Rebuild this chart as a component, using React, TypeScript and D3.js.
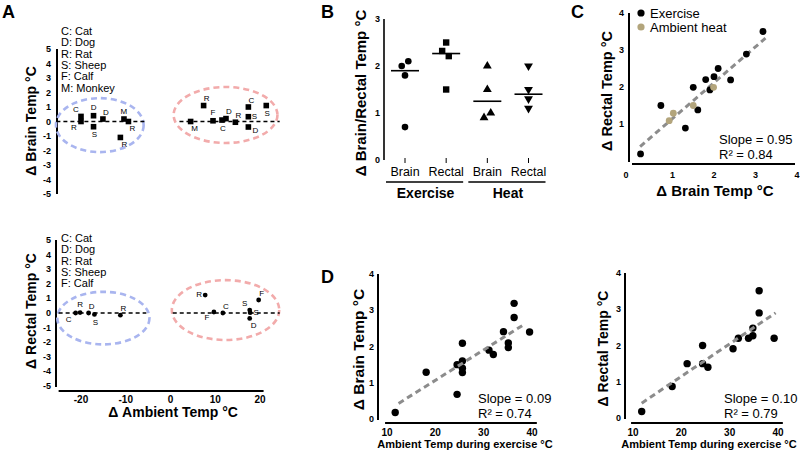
import React from "react";
import * as d3 from "d3";

const FONT = "'Liberation Sans', Arial, Helvetica, sans-serif";

// ---------- Panel A data ----------
const aTicksY = [5, 4, 3, 2, 1, 0, -1, -2, -3, -4, -5];
const aTicksX = [-20, -10, 0, 10, 20];
const legendBrain = ["C: Cat", "D: Dog", "R: Rat", "S: Sheep", "F: Calf", "M: Monkey"];
const legendRectal = ["C: Cat", "D: Dog", "R: Rat", "S: Sheep", "F: Calf"];

const brainSpecies = ["C", "R", "D", "S", "D", "M", "R", "R", "M", "R", "F", "C", "D", "R", "C", "S", "D", "S"];
const brainAmbient = [-20, -20, -17.2, -17.2, -15.1, -10.4, -9.4, -11.2, 4.5, 7.4, 9.5, 11.5, 12.4, 14.5, 17.4, 17.4, 17.4, 21.4];
const brainDelta = [0.35, 0.0, 0.4, -0.36, 0.17, 0.17, 0.0, -1.1, 0, 1.1, 0.05, 0.1, 0.2, -0.05, 1.0, 0.33, -0.38, 1.1];
const brainLabelPos = ["tl", "bl", "t", "b", "tr", "t", "br", "br", "br", "tr", "t", "b", "tr", "tr", "tr", "r", "rb", "b"];

const rectalSpecies = ["C", "R", "D", "S", "R", "R", "F", "C", "S", "S", "D", "F"];
const rectalAmbient = [-21.2, -20.2, -18.3, -17, -11.2, 7.75, 9.7, 11.7, 17.7, 17.8, 17.7, 19.7];
const rectalDelta = [0, 0.03, 0, -0.1, -0.15, 1.23, 0.07, 0, 0.2, 0.02, -0.37, 0.89];
const rectalLabelPos = ["bl", "t", "tr", "b", "tr", "l", "bl", "tr", "tl", "r", "br", "tr"];

// ---------- Panel B data ----------
const bCategories = ["Brain", "Rectal", "Brain", "Rectal"];
const bKeys = ["EB", "ER", "HB", "HR"];
const bGroups = ["Exercise", "Heat"];
const bTicks = [0, 1, 2, 3];
const exerciseBrain = [2.0, 2.1, 1.8, 0.7];
const exerciseRectal = [2.5, 2.32, 2.21, 1.5];
const heatBrain = [2.0, 1.5, 1.0, 0.9];
const heatRectal = [2.0, 1.5, 1.3, 1.1];
const bJitter = [[-3.3, 3.3, 0, 0], [0, -4, 2.6, 0], [0, 0, 3.4, -3.3], [0, 0, 0, 0]];

// ---------- Panel C data ----------
const cTicks = [0, 1, 2, 3, 4];
const cExBrain = [0.23, 0.72, 1.31, 1.5, 1.61, 1.8, 1.9, 2.0, 2.1, 2.4, 2.78, 3.18];
const cExRectal = [0.19, 1.5, 0.89, 1.99, 1.38, 2.2, 1.92, 2.28, 2.5, 2.19, 2.89, 3.5];
const cHeatBrain = [0.92, 1.02, 1.5, 1.99];
const cHeatRectal = [1.09, 1.29, 1.5, 1.99];
const cFitX = [0.22, 3.24];
const cFitY = [0.39, 3.32];

// ---------- Panel D data ----------
const dTicksX = [10, 20, 30, 40];
const dTicksY = [0, 1, 2, 3, 4];
const dBrainAmbient = [11.7, 18.1, 24.5, 24.5, 25.6, 25.6, 25.6, 25.6, 31.1, 32.0, 34.1, 35.1, 35.1, 36.3, 36.3, 39.5];
const dBrainDelta = [0.18, 1.29, 0.68, 1.5, 2.09, 1.6, 1.4, 1.28, 1.9, 1.78, 2.41, 2.1, 1.97, 3.19, 2.8, 2.4];
const dBrainFitX = [12.4, 38.5];
const dBrainFitY = [0.43, 2.62];
const dRectalAmbient = [11.8, 18.1, 21.2, 24.4, 24.4, 25.5, 30.7, 31.8, 33.9, 34.8, 34.8, 36.1, 36.1, 39.2];
const dRectalDelta = [0.18, 0.87, 1.5, 2.0, 1.5, 1.4, 1.91, 2.2, 2.2, 2.27, 2.48, 2.9, 3.51, 2.2];
const dRectalFitX = [11.8, 39.5];
const dRectalFitY = [0.41, 2.9];

const LABEL_OFF: Record<string, [number, number]> = {
  t: [0, -8], b: [1, 8], tl: [-5, -7], bl: [-7, 6], tr: [3, -7], br: [4, 7], r: [6, 0], rb: [7, 3], l: [-6, -1],
};

const BLUE = "#a9b5ef";
const PINK = "#f2abab";
const TAN = "#b3a57c";
const FITGRAY = "#8c8c8c";

function PanelA() {
  const x = d3.scaleLinear().domain([-20, 20]).range([81, 260]);
  const yT = d3.scaleLinear().domain([-5, 5]).range([194, 49]);
  const yB = d3.scaleLinear().domain([-5, 5]).range([386, 240]);
  const ell = (y: any, cx: number, cy: number, rx: number, ry: number, color: string) => (
    <ellipse cx={x(cx)} cy={y(cy)} rx={x(cx + rx) - x(cx)} ry={y(cy - ry) - y(cy)}
      fill="none" stroke={color} strokeWidth={2.6} strokeDasharray="6 4" />
  );
  const zero = (y: any, a: number, b: number) => (
    <line x1={x(a)} x2={x(b)} y1={y(0)} y2={y(0)} stroke="#000" strokeWidth={1.6} strokeDasharray="4 3" />
  );
  return (
    <g>
      <text x={2} y={18} fontSize={18} fontWeight="bold">A</text>
      {/* top */}
      {legendBrain.map((t, i) => (
        <text key={t} x={61} y={31 + i * 11.3} fontSize={11} dominantBaseline="central">{t}</text>
      ))}
      <line x1={57} x2={57} y1={yT(5)} y2={yT(-5)} stroke="#000" strokeWidth={2} />
      {aTicksY.map((t) => (
        <text key={"yt" + t} x={51} y={yT(t)} fontSize={9} fontWeight="bold" textAnchor="end" dominantBaseline="central">{t}</text>
      ))}
      <text transform={`translate(31,121) rotate(-90)`} fontSize={14} fontWeight="bold" textAnchor="middle" dominantBaseline="central">Δ Brain Temp °C</text>
      {ell(yT, -15.8, -0.25, 9.8, 1.86, BLUE)}
      {ell(yT, 12.3, 0.45, 11.6, 1.93, PINK)}
      {zero(yT, -25.5, -5.4)}
      {zero(yT, 2, 24.4)}
      {brainAmbient.map((a, i) => {
        const px = x(a), py = yT(brainDelta[i]);
        const [dx, dy] = LABEL_OFF[brainLabelPos[i]];
        return (
          <g key={"bp" + i}>
            <rect x={px - 2.8} y={py - 2.8} width={5.6} height={5.6} fill="#000" />
            <text x={px + dx} y={py + dy} fontSize={8} textAnchor="middle" dominantBaseline="central">{brainSpecies[i]}</text>
          </g>
        );
      })}
      {/* bottom */}
      {legendRectal.map((t, i) => (
        <text key={"r" + t} x={61} y={238 + i * 11.3} fontSize={11} dominantBaseline="central">{t}</text>
      ))}
      <line x1={56} x2={56} y1={yB(5)} y2={yB(-5) + 1} stroke="#000" strokeWidth={2} />
      {aTicksY.map((t) => (
        <text key={"yb" + t} x={51} y={yB(t)} fontSize={9} fontWeight="bold" textAnchor="end" dominantBaseline="central">{t}</text>
      ))}
      <text transform={`translate(31,311) rotate(-90)`} fontSize={14} fontWeight="bold" textAnchor="middle" dominantBaseline="central">Δ Rectal Temp °C</text>
      <line x1={x(-25)} x2={x(20.8)} y1={391} y2={391} stroke="#000" strokeWidth={2} />
      {aTicksX.map((t) => (
        <text key={"xb" + t} x={x(t)} y={399} fontSize={10} fontWeight="bold" textAnchor="middle" dominantBaseline="central">{t}</text>
      ))}
      <text x={173} y={412} fontSize={14} fontWeight="bold" textAnchor="middle" dominantBaseline="central">Δ Ambient Temp °C</text>
      {ell(yB, -15, -0.35, 10.3, 1.8, BLUE)}
      {ell(yB, 12.3, 0.2, 12, 2.05, PINK)}
      {zero(yB, -25, -5.4)}
      {zero(yB, 0.5, 24.4)}
      {rectalAmbient.map((a, i) => {
        const px = x(a), py = yB(rectalDelta[i]);
        const [dx, dy] = LABEL_OFF[rectalLabelPos[i]];
        return (
          <g key={"rp" + i}>
            <circle cx={px} cy={py} r={2.4} fill="#000" />
            <text x={px + dx} y={py + dy} fontSize={8} textAnchor="middle" dominantBaseline="central">{rectalSpecies[i]}</text>
          </g>
        );
      })}
    </g>
  );
}

function PanelB() {
  const x = d3.scalePoint<string>().domain(bKeys).range([405, 528.5]);
  const y = d3.scaleLinear().domain([0, 3]).range([160, 19]);
  const series = [exerciseBrain, exerciseRectal, heatBrain, heatRectal];
  const tri = d3.symbol(d3.symbolTriangle, 34)();
  const marker = (k: number, cx: number, cy: number, key: string) => {
    if (k === 0) return <circle key={key} cx={cx} cy={cy} r={3.3} fill="#000" />;
    if (k === 1) return <rect key={key} x={cx - 3.2} y={cy - 3.2} width={6.4} height={6.4} fill="#000" />;
    if (k === 2) return <path key={key} d={tri || ""} transform={`translate(${cx},${cy})`} fill="#000" />;
    return <path key={key} d={tri || ""} transform={`translate(${cx},${cy}) rotate(180)`} fill="#000" />;
  };
  return (
    <g>
      <text x={321} y={18} fontSize={18} fontWeight="bold">B</text>
      <line x1={384} x2={384} y1={y(3)} y2={y(0)} stroke="#000" strokeWidth={1.6} />
      {bTicks.map((t) => (
        <text key={t} x={380} y={y(t)} fontSize={9} fontWeight="bold" textAnchor="end" dominantBaseline="central">{t}</text>
      ))}
      <text transform={`translate(360,93) rotate(-90)`} fontSize={15} fontWeight="bold" textAnchor="middle" dominantBaseline="central">Δ Brain/Rectal Temp °C</text>
      {bKeys.map((k, i) => (
        <g key={k}>
          <line x1={x(k)} x2={x(k)} y1={y(0) - 2} y2={y(0) + 3} stroke="#000" strokeWidth={1} />
          <text x={x(k)} y={172} fontSize={12.5} textAnchor="middle" dominantBaseline="central">{bCategories[i]}</text>
          {series[i].map((v, j) => marker(i, (x(k) as number) + bJitter[i][j], y(v), k + j))}
          <line x1={(x(k) as number) - 14} x2={(x(k) as number) + 14} y1={y(d3.median(series[i]) as number)} y2={y(d3.median(series[i]) as number)} stroke="#000" strokeWidth={1.6} />
        </g>
      ))}
      {bGroups.map((g, gi) => {
        const a = x(bKeys[gi * 2]) as number, b = x(bKeys[gi * 2 + 1]) as number;
        return (
          <g key={g}>
            <line x1={a - 19} x2={b + 17} y1={182} y2={182} stroke="#000" strokeWidth={1.6} />
            <text x={(a + b) / 2} y={193} fontSize={14} fontWeight="bold" textAnchor="middle" dominantBaseline="central">{g}</text>
          </g>
        );
      })}
    </g>
  );
}

function PanelC() {
  const x = d3.scaleLinear().domain([0, 4]).range([631, 797]);
  const y = d3.scaleLinear().domain([0, 4]).range([161, 13]);
  return (
    <g>
      <text x={571} y={18} fontSize={18} fontWeight="bold">C</text>
      <line x1={629} x2={629} y1={y(4)} y2={162} stroke="#000" strokeWidth={2} />
      <line x1={632} x2={795} y1={164} y2={164} stroke="#000" strokeWidth={2} />
      {cTicks.filter((t) => t > 0).map((t) => (
        <text key={"y" + t} x={624} y={y(t)} fontSize={9} fontWeight="bold" textAnchor="end" dominantBaseline="central">{t}</text>
      ))}
      {cTicks.map((t) => (
        <text key={"x" + t} x={t === 0 ? 626 : x(t)} y={175} fontSize={9} fontWeight="bold" textAnchor="middle" dominantBaseline="central">{t}</text>
      ))}
      <text transform={`translate(607,91) rotate(-90)`} fontSize={14.5} fontWeight="bold" textAnchor="middle" dominantBaseline="central">Δ Rectal Temp °C</text>
      <text x={715} y={190} fontSize={15} fontWeight="bold" textAnchor="middle" dominantBaseline="central">Δ Brain Temp °C</text>
      <line x1={x(cFitX[0])} x2={x(cFitX[1])} y1={y(cFitY[0])} y2={y(cFitY[1])} stroke={FITGRAY} strokeWidth={3} strokeDasharray="6 4" />
      {cExBrain.map((b, i) => <circle key={"e" + i} cx={x(b)} cy={y(cExRectal[i])} r={3.4} fill="#000" />)}
      {cHeatBrain.map((b, i) => <circle key={"h" + i} cx={x(b)} cy={y(cHeatRectal[i])} r={3.4} fill={TAN} />)}
      <circle cx={641} cy={13} r={3.6} fill="#000" />
      <text x={650} y={13} fontSize={13} dominantBaseline="central">Exercise</text>
      <circle cx={641} cy={27} r={3.6} fill={TAN} />
      <text x={650} y={27} fontSize={13} dominantBaseline="central">Ambient heat</text>
      <text x={719} y={139} fontSize={13} dominantBaseline="central">Slope = 0.95</text>
      <text x={719} y={154} fontSize={13} dominantBaseline="central">R² = 0.84</text>
    </g>
  );
}

function PanelD(props: {
  x0: number; axisX: number; yTop: number; yZero: number; label: string; labelX: number; labelSize: number;
  xs: number[]; ys: number[]; fx: number[]; fy: number[]; slope: string; r2: string; textX: number; xLabelX: number;
}) {
  const x = d3.scaleLinear().domain([10, 40]).range([props.x0, props.x0 + 145]);
  const y = d3.scaleLinear().domain([0, 4]).range([props.yZero, props.yTop]);
  return (
    <g>
      <line x1={props.axisX} x2={props.axisX} y1={y(4)} y2={props.yZero + 1} stroke="#000" strokeWidth={2} />
      <line x1={x(9.6)} x2={x(41)} y1={423} y2={423} stroke="#000" strokeWidth={2} />
      {dTicksY.map((t) => (
        <text key={"y" + t} x={props.axisX - 4} y={y(t)} fontSize={9} fontWeight="bold" textAnchor="end" dominantBaseline="central">{t}</text>
      ))}
      {dTicksX.map((t) => (
        <text key={"x" + t} x={x(t)} y={432} fontSize={10} fontWeight="bold" textAnchor="middle" dominantBaseline="central">{t}</text>
      ))}
      <text transform={`translate(${props.labelX},${(props.yTop + props.yZero) / 2 + 3}) rotate(-90)`} fontSize={props.labelSize} fontWeight="bold" textAnchor="middle" dominantBaseline="central">{props.label}</text>
      <text x={props.xLabelX} y={444} fontSize={11} fontWeight="bold" textAnchor="middle" dominantBaseline="central">Ambient Temp during exercise °C</text>
      {props.xs.map((a, i) => <circle key={i} cx={x(a)} cy={y(props.ys[i])} r={3.7} fill="#000" />)}
      <line x1={x(props.fx[0])} x2={x(props.fx[1])} y1={y(props.fy[0])} y2={y(props.fy[1])} stroke={FITGRAY} strokeWidth={3} strokeDasharray="6 4" />
      <text x={props.textX} y={398} fontSize={13} dominantBaseline="central">{props.slope}</text>
      <text x={props.textX} y={413} fontSize={13} dominantBaseline="central">{props.r2}</text>
    </g>
  );
}

export default function App() {
  return (
    <div>
      <style>{`body{margin:0;background:#fff}`}</style>
      <svg width={800} height={451} style={{ display: "block", fontFamily: FONT }} fontFamily={FONT}>
        <rect width={800} height={451} fill="#fff" />
        <PanelA />
        <PanelB />
        <PanelC />
        <text x={321} y={283} fontSize={18} fontWeight="bold">D</text>
        <PanelD x0={387} axisX={378} yTop={274} yZero={419} label="Δ Brain Temp °C" labelX={358} labelSize={15.5}
          xs={dBrainAmbient} ys={dBrainDelta} fx={dBrainFitX} fy={dBrainFitY} slope="Slope = 0.09" r2="R² = 0.74" textX={478} xLabelX={465} />
        <PanelD x0={633} axisX={625} yTop={273} yZero={418} label="Δ Rectal Temp °C" labelX={603} labelSize={14}
          xs={dRectalAmbient} ys={dRectalDelta} fx={dRectalFitX} fy={dRectalFitY} slope="Slope = 0.10" r2="R² = 0.79" textX={724} xLabelX={709} />
      </svg>
    </div>
  );
}
